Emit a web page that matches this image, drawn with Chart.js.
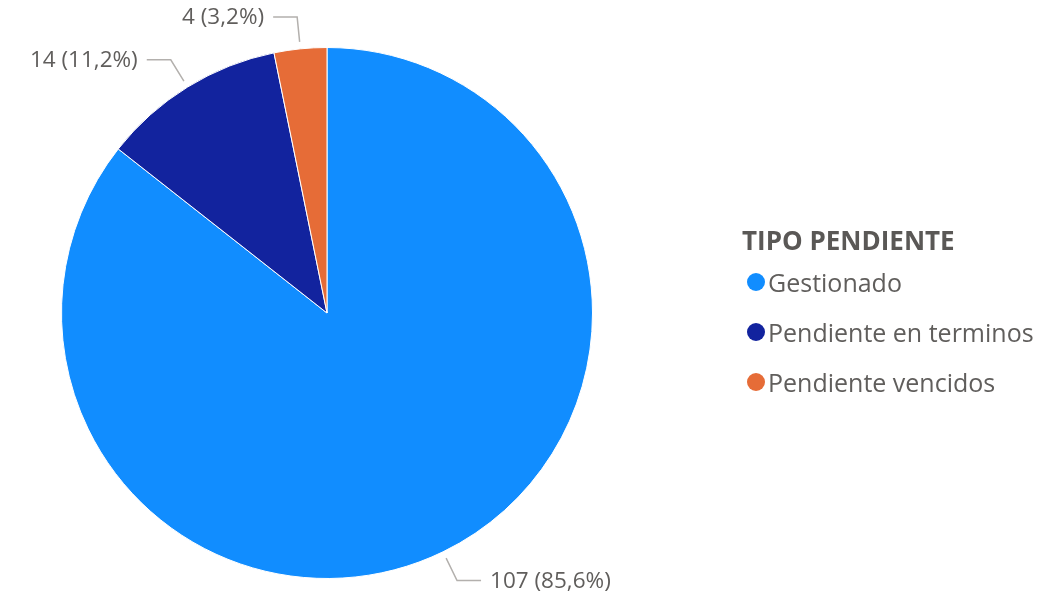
<!DOCTYPE html>
<html>
<head>
<meta charset="utf-8">
<script src="https://cdn.jsdelivr.net/npm/chart.js@4/dist/chart.umd.min.js"></script>
<style>
  html, body { margin: 0; padding: 0; background: #fff; }
  #wrap { position: relative; width: 1064px; height: 599px; }
  #pieCanvas { position: absolute; left: 0; top: 0; }
  #legend { position: absolute; left: 742px; top: 0; font-family: 'Open Sans', sans-serif; color: #605E5C; }
  #legend .title { position: absolute; left: 0; top: 222px; white-space: nowrap; font-weight: bold; font-size: 26px; line-height: 36px; color: #5a5856; }
  #legend .item { position: absolute; left: 5px; white-space: nowrap; display: flex; align-items: center; font-size: 25px; line-height: 36px; height: 36px; }
  #legend .dot { width: 18px; height: 18px; border-radius: 50%; margin-right: 3px; }
</style>
</head>
<body>
<div id="wrap">
  <canvas id="pieCanvas" width="1064" height="599"></canvas>
  <div id="legend"></div>
</div>
<script>
const categories = ['Gestionado', 'Pendiente en terminos', 'Pendiente vencidos'];
const values = [107, 14, 4];
const colors = ['#118DFF', '#12239E', '#E66C37'];
const legendTitle = 'TIPO PENDIENTE';

const total = values.reduce((a, b) => a + b, 0);

function labelText(v) {
    return `${v} (${(v / total * 100).toFixed(1).replace('.', ',')}%)`;
}

// leader lines + labels outside each slice
const leaderLabels = {
    id: 'leaderLabels',
    afterDatasetsDraw(chart) {
        const ctx = chart.ctx;
        const meta = chart.getDatasetMeta(0);
        ctx.save();
        ctx.font = '22.5px "Open Sans", sans-serif';
        ctx.textBaseline = 'middle';
        meta.data.forEach((arc, i) => {
            const mid = (arc.startAngle + arc.endAngle) / 2;
            const r = arc.outerRadius;
            const cos = Math.cos(mid), sin = Math.sin(mid);
            const x1 = arc.x + cos * (r + 7), y1 = arc.y + sin * (r + 7);
            const x2 = arc.x + cos * (r + 32), y2 = arc.y + sin * (r + 32);
            const dir = cos >= 0 ? 1 : -1;
            const x3 = x2 + dir * 24;
            ctx.strokeStyle = '#B3B0AD';
            ctx.lineWidth = 1.5;
            ctx.beginPath();
            ctx.moveTo(x1, y1);
            ctx.lineTo(x2, y2);
            ctx.lineTo(x3, y2);
            ctx.stroke();
            ctx.fillStyle = '#605E5C';
            ctx.textAlign = dir > 0 ? 'left' : 'right';
            ctx.fillText(labelText(values[i]), x3 + dir * 9, y2 + 1);
        });
        ctx.restore();
    }
};

new Chart(document.getElementById('pieCanvas'), {
    type: 'pie',
    data: {
        labels: categories,
        datasets: [{
            data: values,
            backgroundColor: colors,
            borderColor: '#ffffff',
            borderWidth: 1
        }]
    },
    options: {
        responsive: false,
        animation: false,
        layout: { padding: { left: 61, right: 471, top: 47, bottom: 20 } },
        plugins: {
            legend: { display: false },
            tooltip: { enabled: false }
        }
    },
    plugins: [leaderLabels]
});

const legendEl = document.getElementById('legend');
const t = document.createElement('div');
t.className = 'title';
t.textContent = legendTitle;
legendEl.appendChild(t);
const rowCenters = [282, 332, 382];
categories.forEach((c, i) => {
    const row = document.createElement('div');
    row.className = 'item';
    row.style.top = (rowCenters[i] - 18) + 'px';
    const dot = document.createElement('span');
    dot.className = 'dot';
    dot.style.background = colors[i];
    const txt = document.createElement('span');
    txt.textContent = c;
    row.appendChild(dot);
    row.appendChild(txt);
    legendEl.appendChild(row);
});
</script>
</body>
</html>
